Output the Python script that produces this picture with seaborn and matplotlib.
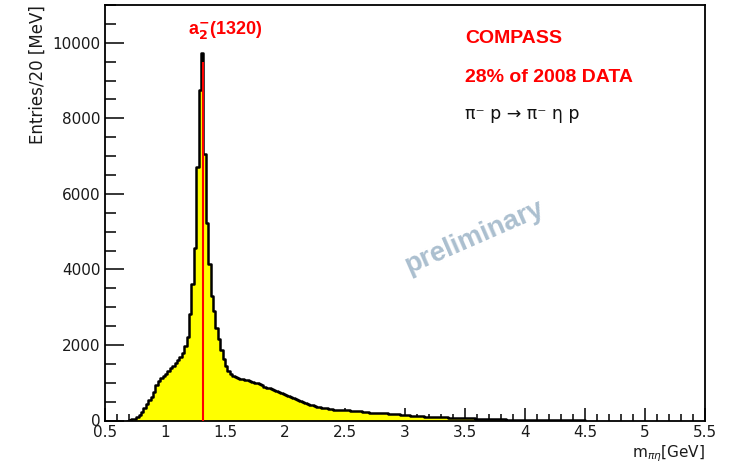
import numpy as np
import pandas as pd
import matplotlib
matplotlib.use("Agg")
import matplotlib.pyplot as plt
import seaborn as sns
from matplotlib.ticker import MultipleLocator, FuncFormatter

# ---- histogram binning (20 MeV bins) ----
bin_start = 0.68
bin_width = 0.02

# entries per 20 MeV bin
counts_rise = [0, 15, 30, 45, 80, 140, 220, 320, 430, 530, 620, 760,
               930, 1050, 1130, 1190, 1240, 1320, 1380, 1440, 1520, 1590, 1690, 1800]          # 0.68-1.16
counts_peak = [1960, 2200, 2820, 3620, 4580, 6700, 8760, 9720, 7060, 5240, 4150,
               3300, 2900, 2450, 2150, 1870, 1640, 1440, 1310, 1220, 1170, 1140]              # 1.16-1.60
counts_shoulder = [1120, 1100, 1090, 1070, 1060, 1040, 1010, 1000, 985, 970,
                   940, 900, 870, 850, 830, 810, 790, 760, 740, 710,
                   680, 650, 620, 590, 560, 535, 510, 490, 465, 445,
                   420, 400, 385, 365, 350, 340, 330, 320, 305, 300]                          # 1.60-2.40
counts_tail = [290, 285, 280, 282, 270, 275, 265, 262, 255, 250,
               248, 242, 232, 225, 215, 210, 200, 202, 196, 194,
               190, 186, 190, 178, 176, 170, 166, 164, 156, 150,
               142, 136, 130, 122, 116, 112, 110, 106, 102, 100,
               96, 95, 91, 88, 86, 85, 81, 80, 78, 76,
               73, 70, 68, 66, 63, 61, 58, 56, 53, 51,
               48, 46, 43, 41, 39, 37, 35, 33, 31, 30,
               28, 27, 25, 24, 23, 21, 20, 19, 18, 17,
               16, 15, 14, 13, 12, 12, 11, 10, 10, 9,
               9, 8, 8, 7, 7, 6, 6, 5, 5, 4,
               4, 3, 3, 3, 2]                                                                  # 2.40-4.50

a2_mass = 1.318
a2_line_top = 9500

x_ticks = [0.5, 1, 1.5, 2, 2.5, 3, 3.5, 4, 4.5, 5, 5.5]
y_ticks = [0, 2000, 4000, 6000, 8000, 10000]

counts = np.array(counts_rise + counts_peak + counts_shoulder + counts_tail, dtype=float)
edges = (bin_start + bin_width * np.arange(len(counts) + 1)).tolist()
centers = [e + bin_width / 2 for e in edges[:-1]]
df = pd.DataFrame({"mass": centers, "entries": counts})

sns.set_theme(style="white")
plt.rcParams["font.family"] = ["DejaVu Sans"]

W, H = 731, 467
fig = plt.figure(figsize=(W / 100, H / 100), dpi=100)
L, R, B, T = 105, 705, 420.5, 5
ax = fig.add_axes([L / W, 1 - B / H, (R - L) / W, (B - T) / H])

sns.histplot(data=df, x="mass", weights="entries", bins=edges, element="step",
             fill=True, color="#ffff00", alpha=1, linewidth=0, ax=ax)
sns.histplot(data=df, x="mass", weights="entries", bins=edges, element="step",
             fill=False, color="black", linewidth=1.8, ax=ax)

ax.vlines(a2_mass, 0, a2_line_top, color="#ff0000", linewidth=1.5, zorder=5)

ax.set_xlim(0.5, 5.5)
ax.set_ylim(0, 11000)
ax.set_xticks(x_ticks)
ax.set_yticks(y_ticks)
ax.xaxis.set_minor_locator(MultipleLocator(0.1))
ax.yaxis.set_minor_locator(MultipleLocator(500))
ax.xaxis.set_major_formatter(FuncFormatter(lambda v, p: f"{v:g}"))
ax.yaxis.set_major_formatter(FuncFormatter(lambda v, p: f"{int(v)}"))

ax.tick_params(which="both", direction="in", top=False, right=False,
               bottom=True, left=True,
               color="black", width=1.1, labelsize=11, labelcolor="#1a1a1a")
ax.tick_params(axis="x", which="major", length=9.5, pad=3.5)
ax.tick_params(axis="x", which="minor", length=5)
ax.tick_params(axis="y", which="major", length=14, pad=3)
ax.tick_params(axis="y", which="minor", length=8)

for s in ax.spines.values():
    s.set_visible(True)
    s.set_color("black")
    s.set_linewidth(1.3)

ax.set_xlabel(r"m$_{\pi\eta}$[GeV]", loc="right", fontsize=11, color="#1a1a1a")
ax.xaxis.set_label_coords(1.0, -0.055)
ax.set_ylabel("")
ax.text((38 - L) / (R - L), 1.0, "Entries/20 [MeV]", transform=ax.transAxes,
        rotation=90, ha="center", va="top", fontsize=12, color="#1a1a1a")

red = "#ff0000"
ax.text(3.5, 10000, "COMPASS", color=red, fontsize=14, fontweight="bold",
        family=["Liberation Sans", "DejaVu Sans"], ha="left", va="baseline")
ax.text(3.5, 8967, "28% of 2008 DATA", color=red, fontsize=14, fontweight="bold",
        family=["Liberation Sans", "DejaVu Sans"], ha="left", va="baseline")
ax.text(3.5, 7974, "π⁻ p → π⁻ η p", color="#111111", fontsize=12.5,
        family=["DejaVu Sans"], ha="left", va="baseline")
ax.text(1.19, 10238, r"a$_{\mathbf{2}}^{\mathbf{-}}$(1320)", color=red, fontsize=13,
        fontweight="bold", family=["Liberation Sans", "DejaVu Sans"],
        ha="left", va="baseline")

ax.text(3.575, 4861, "preliminary", color="#abbfcf", fontsize=20, fontweight="bold",
        family=["Liberation Sans", "DejaVu Sans"], rotation=23.6,
        rotation_mode="anchor", ha="center", va="center")

fig.savefig("out.png", dpi=100)
